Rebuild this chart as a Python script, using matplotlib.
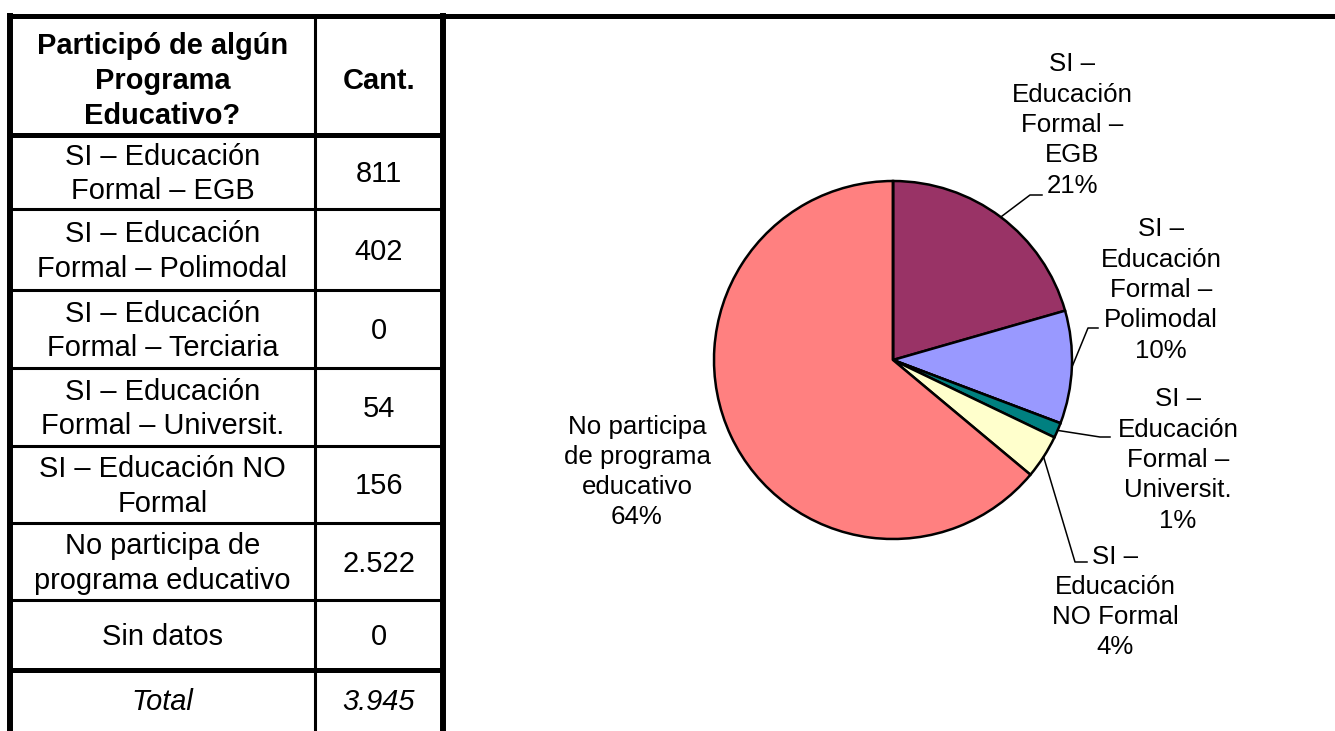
import matplotlib
matplotlib.use("Agg")
import matplotlib.pyplot as plt
import numpy as np

plt.rcParams['font.family'] = ['Liberation Sans', 'DejaVu Sans']

# datos de la tabla
categorias = ["SI – Educación\nFormal – EGB",
              "SI – Educación\nFormal – Polimodal",
              "SI – Educación\nFormal – Terciaria",
              "SI – Educación\nFormal – Universit.",
              "SI – Educación NO\nFormal",
              "No participa de\nprograma educativo",
              "Sin datos"]
cantidades = [811, 402, 0, 54, 156, 2522, 0]

# etiquetas del grafico de torta
etiquetas_torta = ["SI –\nEducación\nFormal –\nEGB",
                   "SI –\nEducación\nFormal –\nPolimodal",
                   "SI –\nEducación\nFormal –\nTerciaria",
                   "SI –\nEducación\nFormal –\nUniversit.",
                   "SI –\nEducación\nNO Formal",
                   "No participa\nde programa\neducativo",
                   "Sin datos"]
colores = ["#993366", "#9999FF", "#660066", "#008080", "#FFFFCC", "#FF8080", "#CCFFFF"]

total = sum(cantidades)


def miles(v):
    return f"{v:,}".replace(",", ".")


W, H = 1335, 731
fig = plt.figure(figsize=(W / 100, H / 100), dpi=100)

# ---- tabla (coordenadas en pixeles) ----
ax = fig.add_axes([0, 0, 1, 1])
ax.set_xlim(0, W)
ax.set_ylim(H, 0)
ax.axis("off")

x_izq, x_div, x_der = 10, 315, 443
y_filas = [15.5, 134.5, 209, 290, 368, 446, 523, 600, 670, H]
fs_tabla = 20.9

# lineas
ax.plot([7, W], [15.5, 15.5], color="black", lw=3.6, solid_capstyle="butt")
ax.plot([x_izq, x_izq], [13, H], color="black", lw=4.3, solid_capstyle="butt")
ax.plot([x_der, x_der], [13, H], color="black", lw=4.3, solid_capstyle="butt")
ax.plot([x_div, x_div], [15, H], color="black", lw=2.2, solid_capstyle="butt")
for i, y in enumerate(y_filas[1:-1]):
    grueso = (i == 0) or (i == len(y_filas) - 3)
    ax.plot([x_izq, x_der], [y, y], color="black", lw=3.6 if grueso else 2.2,
            solid_capstyle="butt")

cx1 = (x_izq + x_div) / 2
cx2 = (x_div + x_der) / 2

# encabezado
ax.text(cx1, 81, "Participó de algún\nPrograma\nEducativo?",
        ha="center", va="center", fontsize=fs_tabla, fontweight="bold", linespacing=1.33)
ax.text(cx2, 81, "Cant.",
        ha="center", va="center", fontsize=fs_tabla, fontweight="bold")

for i, (cat, val) in enumerate(zip(categorias, cantidades)):
    yc = (y_filas[i + 1] + y_filas[i + 2]) / 2 + 2
    ax.text(cx1, yc, cat, ha="center", va="center", fontsize=fs_tabla, linespacing=1.28)
    ax.text(cx2, yc, miles(val), ha="center", va="center", fontsize=fs_tabla)

yc = (y_filas[-2] + y_filas[-1]) / 2 + 1
ax.text(cx1, yc, "Total", ha="center", va="center", fontsize=fs_tabla, style="italic")
ax.text(cx2, yc, miles(total), ha="center", va="center", fontsize=fs_tabla, style="italic")

# ---- grafico de torta ----
pcx, pcy, R = 893, 360, 179
ax_p = fig.add_axes([(pcx - R) / W, (H - pcy - R) / H, 2 * R / W, 2 * R / H])
wedges, _ = ax_p.pie(cantidades, colors=colores, startangle=90, counterclock=False,
                     wedgeprops=dict(edgecolor="black", linewidth=1.8))
ax_p.set_xlim(-1, 1)
ax_p.set_ylim(-1, 1)
ax_p.set_aspect("equal")


def px(x, y):
    return (x - pcx) / R, (pcy - y) / R


# posicion de textos (centro) y lineas guia (codo, final) en pixeles
pos_texto = {0: (1072, 125), 1: (1161, 290), 3: (1178, 460), 4: (1115, 602), 5: (637, 472)}
guias = {0: [(1030, 195), (1042, 195)],
         1: [(1088, 328), (1098, 328)],
         3: [(1100, 437), (1110, 437)],
         4: [(1075, 562), (1087, 562)]}

fs_torta = 18.6
for i, w in enumerate(wedges):
    if cantidades[i] == 0:
        continue
    pct = round(cantidades[i] / total * 100)
    tx, ty = px(*pos_texto[i])
    ax_p.text(tx, ty, f"{etiquetas_torta[i]}\n{pct}%", ha="center", va="center",
              fontsize=fs_torta, linespacing=1.33, clip_on=False)
    if i in guias:
        ang = np.deg2rad((w.theta1 + w.theta2) / 2)
        xs = [np.cos(ang)] + [px(*p)[0] for p in guias[i]]
        ys = [np.sin(ang)] + [px(*p)[1] for p in guias[i]]
        ax_p.plot(xs, ys, color="black", lw=1.1, clip_on=False)

fig.savefig("out.png", dpi=100)
